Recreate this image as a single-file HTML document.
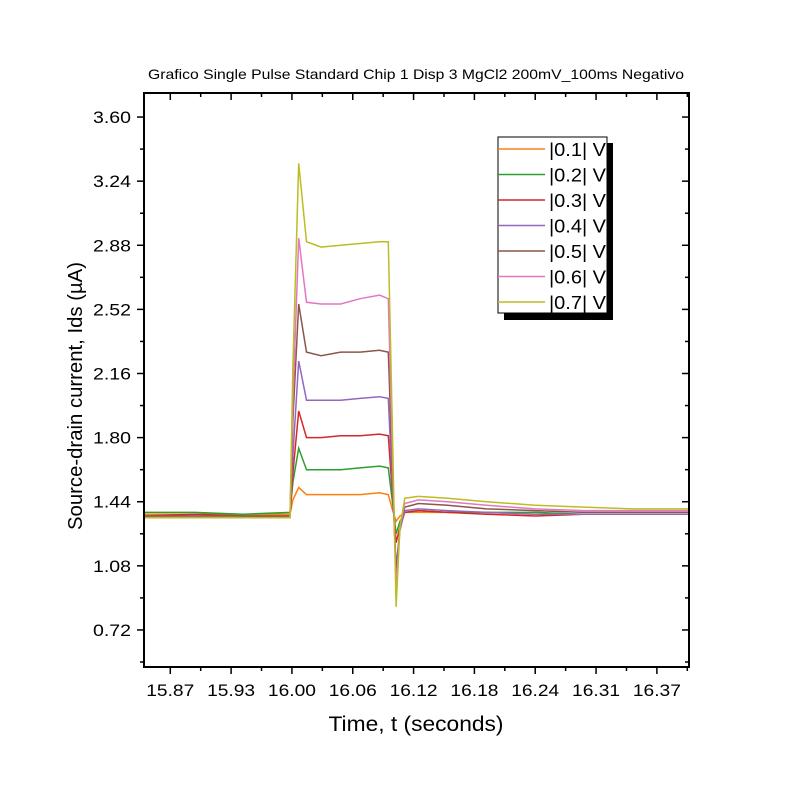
<!DOCTYPE html>
<html><head><meta charset="utf-8"><style>body{margin:0;background:#fff}svg{display:block;font-family:"Liberation Sans",sans-serif}</style></head>
<body>
<svg id="c" width="800" height="800" xmlns="http://www.w3.org/2000/svg">
<text x="416" y="79" font-size="14" text-anchor="middle" textLength="536" lengthAdjust="spacingAndGlyphs">Grafico Single Pulse Standard Chip 1 Disp 3 MgCl2 200mV_100ms Negativo</text>
<text x="416" y="731" font-size="21" text-anchor="middle" textLength="175" lengthAdjust="spacingAndGlyphs">Time, t (seconds)</text>
<text transform="translate(82,396) rotate(-90)" font-size="20" text-anchor="middle" textLength="268" lengthAdjust="spacingAndGlyphs">Source-drain current, Ids (µA)</text>
<g id="plot"></g>
<g id="legend"></g>
</svg>
<script>
const times=[15.848,15.9,15.95,15.998,16.001,16.007,16.015,16.03,16.05,16.07,16.09,16.099,16.103,16.107,16.111,16.116,16.13,16.16,16.2,16.25,16.3,16.35,16.408];
const s01=[1.37,1.37,1.37,1.37,1.45,1.52,1.48,1.48,1.48,1.48,1.49,1.48,1.40,1.33,1.36,1.38,1.38,1.38,1.38,1.37,1.37,1.37,1.37];
const s02=[1.38,1.38,1.37,1.38,1.55,1.74,1.62,1.62,1.62,1.63,1.64,1.63,1.45,1.26,1.33,1.38,1.39,1.38,1.38,1.38,1.37,1.37,1.37];
const s03=[1.36,1.37,1.36,1.36,1.60,1.95,1.80,1.80,1.81,1.81,1.82,1.81,1.50,1.21,1.30,1.38,1.39,1.38,1.37,1.36,1.37,1.37,1.37];
const s04=[1.36,1.36,1.36,1.36,1.70,2.23,2.01,2.01,2.01,2.02,2.03,2.02,1.55,1.08,1.28,1.39,1.40,1.39,1.38,1.37,1.37,1.37,1.37];
const s05=[1.36,1.36,1.36,1.36,1.90,2.55,2.28,2.26,2.28,2.28,2.29,2.28,1.65,1.02,1.30,1.41,1.43,1.42,1.40,1.39,1.38,1.38,1.38];
const s06=[1.35,1.35,1.35,1.35,2.00,2.92,2.56,2.55,2.55,2.58,2.60,2.58,1.75,0.95,1.30,1.43,1.45,1.44,1.42,1.40,1.39,1.39,1.39];
const s07=[1.35,1.35,1.35,1.35,2.20,3.34,2.90,2.87,2.88,2.89,2.90,2.90,1.90,0.85,1.30,1.46,1.47,1.46,1.44,1.42,1.41,1.40,1.40];
const seriesNames=["|0.1| V","|0.2| V","|0.3| V","|0.4| V","|0.5| V","|0.6| V","|0.7| V"];
const xTicks=[15.875,15.9375,16.0,16.0625,16.125,16.1875,16.25,16.3125,16.375];
const xTickLabels=["15.87","15.93","16.00","16.06","16.12","16.18","16.24","16.31","16.37"];
const yTicks=[0.72,1.08,1.44,1.80,2.16,2.52,2.88,3.24,3.60];
const yTickLabels=["0.72","1.08","1.44","1.80","2.16","2.52","2.88","3.24","3.60"];

const colors=["#ff7f0e","#2ca02c","#d62728","#9467bd","#8c564b","#e377c2","#bcbd22"];
const series=[s01,s02,s03,s04,s05,s06,s07];
const L=144,R=689,T=93,B=667;
const x0=15.848,x1=16.408,y0=0.512,y1=3.735;
const X=t=>L+(t-x0)/(x1-x0)*(R-L);
const Y=v=>B-(v-y0)/(y1-y0)*(B-T);
const NS="http://www.w3.org/2000/svg";
const plot=document.getElementById('plot');
function mk(tag,attrs,parent){const e=document.createElementNS(NS,tag);for(const k in attrs)e.setAttribute(k,attrs[k]);parent.appendChild(e);return e;}
series.forEach((s,i)=>{
  const p=mk('polyline',{points:s.map((v,j)=>X(times[j]).toFixed(1)+','+Y(v).toFixed(1)).join(' '),fill:'none',stroke:colors[i],'stroke-width':1.5},plot);
  
  
});
let a=mk('rect',{x:L,y:T,width:R-L,height:B-T,fill:'none',stroke:'#000','stroke-width':2},plot);


const dy=(yTicks[1]-yTicks[0]);
yTicks.forEach((v,i)=>{
  const y=Y(v);
  mk('line',{x1:L-7,x2:L,y1:y,y2:y,stroke:'#000','stroke-width':1.5},plot);
  mk('line',{x1:R,x2:R-7,y1:y,y2:y,stroke:'#000','stroke-width':1.5},plot);
  const t=mk('text',{x:L-13,y:y+6,'font-size':17,'text-anchor':'end',textLength:38,lengthAdjust:'spacingAndGlyphs'},plot);
  t.textContent=yTickLabels[i];
  
  
});
for(let v=yTicks[0]-dy/2;v<y1;v+=dy){const y=Y(v);if(y<T||y>B)continue;
  mk('line',{x1:L-4,x2:L,y1:y,y2:y,stroke:'#000','stroke-width':1.5},plot);
  mk('line',{x1:R,x2:R-4,y1:y,y2:y,stroke:'#000','stroke-width':1.5},plot);}
const dx=xTicks[1]-xTicks[0];
xTicks.forEach((v,i)=>{
  const x=X(v);
  mk('line',{x1:x,x2:x,y1:B,y2:B+7,stroke:'#000','stroke-width':1.5},plot);
  mk('line',{x1:x,x2:x,y1:T,y2:T+7,stroke:'#000','stroke-width':1.5},plot);
  const t=mk('text',{x:x,y:B+29,'font-size':17,'text-anchor':'middle',textLength:48,lengthAdjust:'spacingAndGlyphs'},plot);
  t.textContent=xTickLabels[i];
  
  
});
for(let v=xTicks[0]-dx/2;v<x1;v+=dx){const x=X(v);if(x<L||x>R)continue;
  mk('line',{x1:x,x2:x,y1:B,y2:B+4,stroke:'#000','stroke-width':1.5},plot);
  mk('line',{x1:x,x2:x,y1:T,y2:T+4,stroke:'#000','stroke-width':1.5},plot);}
const lg=document.getElementById('legend');
mk('rect',{x:504,y:143,width:109,height:177,fill:'#000'},lg);
mk('rect',{x:498,y:137,width:109,height:176,fill:'#fff',stroke:'#000','stroke-width':1},lg);
seriesNames.forEach((n,i)=>{
  const y=149+i*25.5;
  const ln=mk('line',{x1:498,x2:545,y1:y,y2:y,stroke:colors[i],'stroke-width':1.5},lg);
  
  
  const t=mk('text',{x:549,y:y+7,'font-size':18,textLength:57,lengthAdjust:'spacingAndGlyphs'},lg);
  t.textContent=n;
  
  
});
</script>
</body></html>
